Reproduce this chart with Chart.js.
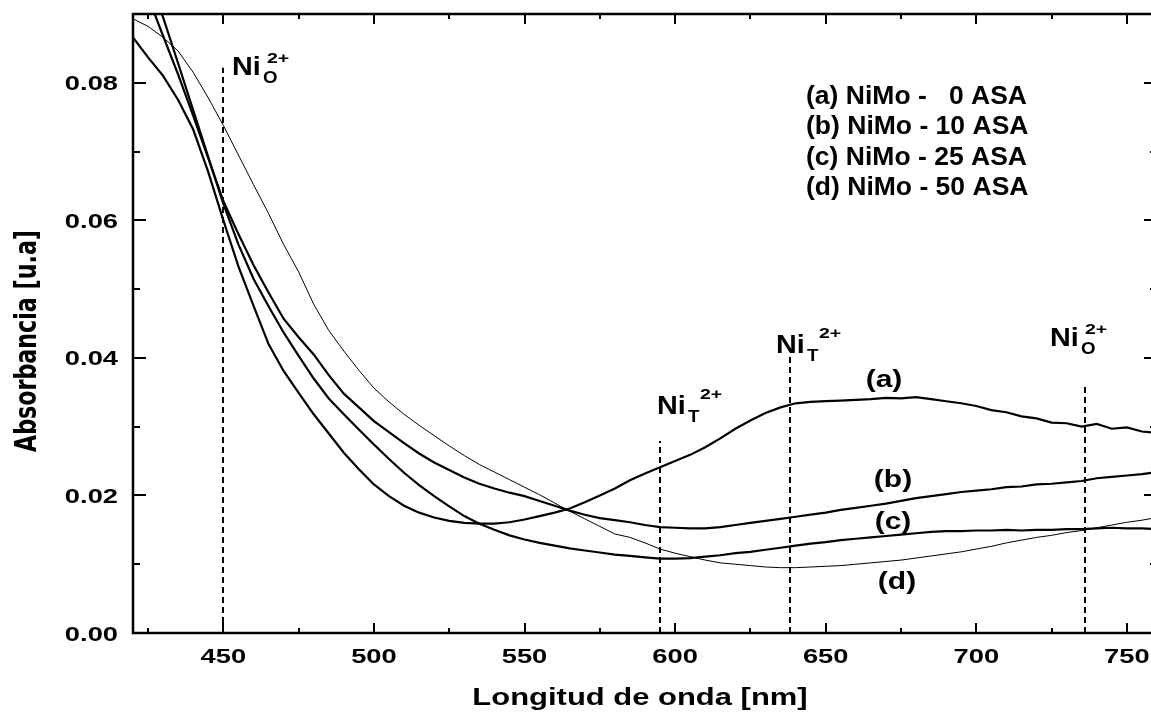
<!DOCTYPE html>
<html><head><meta charset="utf-8">
<script src="https://cdn.jsdelivr.net/npm/chart.js@4.4.1/dist/chart.umd.min.js"></script>
<style>
html,body{margin:0;padding:0;background:#fff;overflow:hidden;width:1151px;height:713px}
#wrap{width:1160px;height:713px;position:relative}
canvas{display:block}
</style></head>
<body><div id="wrap"><canvas id="c" width="1160" height="713"></canvas></div>
<script>
// ---------------- data ----------------
const wavelength = [420,425,430,435,440,445,450,455,460,465,470,475,480,485,490,495,500,505,510,515,520,525,530,535,540,545,550,555,560,565,570,575,580,585,590,595,600,605,610,615,620,625,630,635,640,645,650,655,660,665,670,675,680,685,690,695,700,705,710,715,720,725,730,735,740,745,750,755,760];
// (a) NiMo - 0 ASA
const seriesA = [0.0866,0.0837,0.0810,0.0775,0.0732,0.0670,0.0600,0.0533,0.0476,0.0420,0.0381,0.0349,0.0318,0.0290,0.0262,0.0238,0.0216,0.0199,0.0185,0.0175,0.0168,0.0163,0.0160,0.0159,0.0159,0.0161,0.0165,0.0170,0.0175,0.0181,0.0190,0.0200,0.0210,0.0222,0.0232,0.0241,0.0250,0.0259,0.0270,0.0283,0.0297,0.0309,0.0320,0.0328,0.0334,0.0336,0.0337,0.0338,0.0339,0.0340,0.0342,0.0341,0.0343,0.0340,0.0337,0.0334,0.0330,0.0324,0.0321,0.0315,0.0312,0.0306,0.0305,0.0300,0.0304,0.0297,0.0299,0.0293,0.0291];
// (b) NiMo - 10 ASA
const seriesB = [0.0985,0.0925,0.0868,0.0812,0.0752,0.0690,0.0628,0.0580,0.0535,0.0495,0.0457,0.0430,0.0405,0.0375,0.0348,0.0328,0.0308,0.0292,0.0276,0.0261,0.0248,0.0237,0.0226,0.0217,0.0210,0.0204,0.0199,0.0192,0.0185,0.0178,0.0172,0.0167,0.0164,0.0161,0.0157,0.0154,0.0153,0.0152,0.0152,0.0154,0.0157,0.0160,0.0163,0.0166,0.0169,0.0172,0.0175,0.0179,0.0182,0.0185,0.0188,0.0192,0.0196,0.0199,0.0202,0.0205,0.0207,0.0209,0.0212,0.0213,0.0216,0.0217,0.0219,0.0221,0.0225,0.0227,0.0229,0.0231,0.0234];
// (c) NiMo - 25 ASA
const seriesC = [0.1010,0.0952,0.0895,0.0828,0.0760,0.0692,0.0624,0.0565,0.0515,0.0475,0.0437,0.0403,0.0370,0.0341,0.0318,0.0296,0.0274,0.0253,0.0233,0.0215,0.0199,0.0184,0.0170,0.0159,0.0150,0.0142,0.0136,0.0131,0.0127,0.0123,0.0120,0.0117,0.0114,0.0112,0.0110,0.0108,0.0108,0.0109,0.0111,0.0113,0.0116,0.0118,0.0121,0.0124,0.0127,0.0130,0.0132,0.0135,0.0137,0.0139,0.0141,0.0143,0.0145,0.0147,0.0148,0.0148,0.0149,0.0149,0.0150,0.0149,0.0150,0.0150,0.0151,0.0151,0.0152,0.0153,0.0152,0.0152,0.0151];
// (d) NiMo - 50 ASA
const seriesD = [0.0893,0.0882,0.0866,0.0846,0.0815,0.0778,0.0738,0.0695,0.0652,0.0610,0.0565,0.0525,0.0478,0.0440,0.0410,0.0382,0.0356,0.0336,0.0318,0.0302,0.0287,0.0272,0.0258,0.0245,0.0234,0.0223,0.0212,0.0201,0.0189,0.0177,0.0166,0.0155,0.0144,0.0139,0.0131,0.0122,0.0116,0.0111,0.0106,0.0102,0.0100,0.0098,0.0096,0.0095,0.0095,0.0096,0.0097,0.0098,0.0100,0.0102,0.0104,0.0106,0.0109,0.0112,0.0115,0.0118,0.0122,0.0126,0.0131,0.0135,0.0139,0.0142,0.0146,0.0149,0.0153,0.0157,0.0161,0.0164,0.0168];

const xMajorTicks = [450,500,550,600,650,700,750];
const xTickLabels = ['450','500','550','600','650','700','750'];
const xMinorTicks = [425,475,525,575,625,675,725];
const yMajorTicks = [0,0.02,0.04,0.06,0.08];
const yTickLabels = ['0.00','0.02','0.04','0.06','0.08'];
const yMinorTicks = [0.01,0.03,0.05,0.07];

const markerWavelengths = [450,595,638,736];
const markerTops = [0.0822,0.0279,0.0404,0.0360];

const legendLines = ['(a) NiMo -   0 ASA','(b) NiMo - 10 ASA','(c) NiMo - 25 ASA','(d) NiMo - 50 ASA'];
const curveLabels = ['(a)','(b)','(c)','(d)'];
const xTitle = 'Longitud de onda [nm]';
const yTitle = 'Absorbancia [u.a]';

// ---------------- layout (pixels / label anchors) ----------------
const FONT = '"Liberation Sans", Arial, Helvetica, sans-serif';
const curveLabelPos = [[884,387],[893,487],[893,529],[897,589]]; // centre x, baseline
const legendPos = {x:806, y0:104, dy:30.3};
const ionLabels = [
  {sub:'O', x:232, y:75, subDx:31, subDy:8, supDx:35, supDy:-12},
  {sub:'T', x:657, y:414, subDx:31, subDy:8, supDx:43, supDy:-15},
  {sub:'T', x:776, y:353, subDx:31, subDy:8, supDx:43, supDy:-15},
  {sub:'O', x:1050, y:346, subDx:31, subDy:8, supDx:35, supDy:-12}
];

function txt(ctx, s, x, y, size, sx, align, family){
  ctx.save();
  ctx.font = 'bold ' + size + 'px ' + (family || FONT);
  const w = ctx.measureText(s).width * sx;
  const left = align === 'center' ? x - w/2 : (align === 'right' ? x - w : x);
  ctx.translate(left, y);
  ctx.scale(sx, 1);
  ctx.textAlign = 'left';
  ctx.textBaseline = 'alphabetic';
  ctx.fillStyle = '#000';
  ctx.fillText(s, 0, 0);
  ctx.restore();
}

const decor = {
  id: 'decor',
  beforeDatasetsDraw(chart){
    const {ctx, scales:{x, y}} = chart;
    ctx.save();
    ctx.strokeStyle = '#000';
    ctx.lineWidth = 2;
    ctx.setLineDash([6,4]);
    markerWavelengths.forEach((w, i) => {
      const px = Math.round(x.getPixelForValue(w));
      ctx.beginPath();
      ctx.moveTo(px, y.getPixelForValue(0));
      ctx.lineTo(px, y.getPixelForValue(markerTops[i]));
      ctx.stroke();
    });
    ctx.restore();
  },
  afterDraw(chart){
    const {ctx, chartArea:a, scales:{x, y}} = chart;
    ctx.save();
    ctx.strokeStyle = '#000';
    ctx.lineCap = 'butt';
    ctx.lineWidth = 2.5;
    ctx.strokeRect(a.left, a.top, a.right - a.left, a.bottom - a.top);
    ctx.lineWidth = 2;
    const vt = (v, len) => {
      const px = Math.round(x.getPixelForValue(v));
      ctx.beginPath();
      ctx.moveTo(px, a.bottom); ctx.lineTo(px, a.bottom - len);
      ctx.moveTo(px, a.top); ctx.lineTo(px, a.top + len);
      ctx.stroke();
    };
    const ht = (v, len) => {
      const py = Math.round(y.getPixelForValue(v));
      ctx.beginPath();
      ctx.moveTo(a.left, py); ctx.lineTo(a.left + len, py);
      ctx.moveTo(a.right, py); ctx.lineTo(a.right - len, py);
      ctx.stroke();
    };
    xMajorTicks.forEach(v => vt(v, 10));
    xMinorTicks.forEach(v => vt(v, 5));
    yMajorTicks.forEach(v => ht(v, 13));
    yMinorTicks.forEach(v => ht(v, 7));
    ctx.restore();

    xMajorTicks.forEach((v, i) => txt(ctx, xTickLabels[i], x.getPixelForValue(v), 663, 21, 1.3, 'center'));
    yMajorTicks.forEach((v, i) => txt(ctx, yTickLabels[i], 118, y.getPixelForValue(v) + 7.5, 21, 1.3, 'right'));

    txt(ctx, xTitle, 640, 705, 24, 1.29, 'center');
    ctx.save();
    ctx.translate(35.5, 341);
    ctx.rotate(-Math.PI/2);
    ctx.font = 'bold 30px "Liberation Sans Narrow", "DejaVu Sans Condensed", ' + FONT;
    const tw = ctx.measureText(yTitle).width;
    ctx.scale(222 / tw, 1);
    ctx.textAlign = 'center';
    ctx.textBaseline = 'alphabetic';
    ctx.fillStyle = '#000';
    ctx.fillText(yTitle, 0, 0);
    ctx.restore();

    legendLines.forEach((s, i) => txt(ctx, s, legendPos.x, legendPos.y0 + i*legendPos.dy, 26, 1.02, 'left'));
    curveLabels.forEach((s, i) => txt(ctx, s, curveLabelPos[i][0], curveLabelPos[i][1], 24, 1.25, 'center'));
    ionLabels.forEach(l => {
      txt(ctx, 'Ni', l.x, l.y, 25, 1.15, 'left');
      txt(ctx, l.sub, l.x + l.subDx, l.y + l.subDy, 17, 1.1, 'left');
      txt(ctx, '2+', l.x + l.supDx, l.y + l.supDy, 15, 1.3, 'left');
    });
  }
};

const mk = (vals, w) => ({
  data: wavelength.map((wl, i) => ({x: wl, y: vals[i]})),
  borderColor: '#000', borderWidth: w, pointRadius: 0, fill: false, tension: 0
});

new Chart(document.getElementById('c').getContext('2d'), {
  type: 'line',
  data: {datasets: [mk(seriesA, 2.2), mk(seriesB, 2.2), mk(seriesC, 2.2), mk(seriesD, 1)]},
  options: {
    responsive: false, animation: false, devicePixelRatio: 1,
    layout: {padding: {top: 14, right: 3, left: 0, bottom: 0}},
    plugins: {legend: {display: false}, tooltip: {enabled: false}},
    scales: {
      x: {type: 'linear', min: 420, max: 760,
          grid: {display: false, drawTicks: false}, border: {display: false},
          ticks: {display: false}, afterFit: s => { s.height = 80; }},
      y: {type: 'linear', min: 0, max: 0.09,
          grid: {display: false, drawTicks: false}, border: {display: false},
          ticks: {display: false}, afterFit: s => { s.width = 133; }}
    }
  },
  plugins: [decor]
});
</script>
</body></html>
